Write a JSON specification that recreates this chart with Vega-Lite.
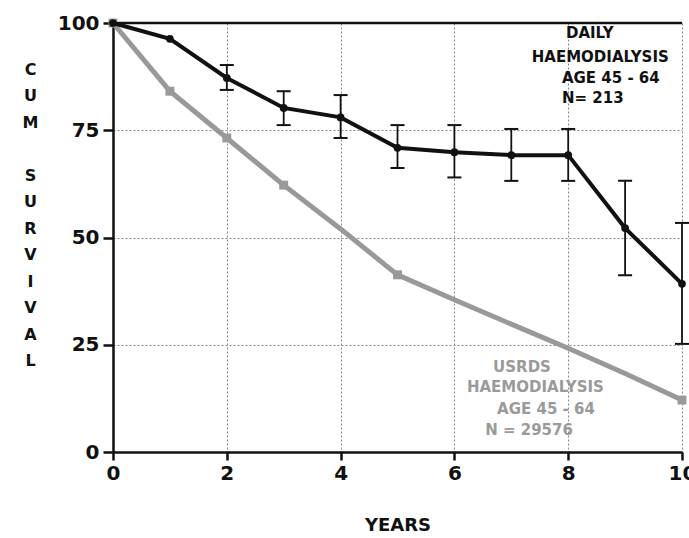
{
  "$schema": "https://vega.github.io/schema/vega-lite/v6.json",
  "width": 569,
  "height": 429,
  "autosize": "none",
  "padding": {"left": 113, "top": 23, "right": 7, "bottom": 86},
  "background": "white",
  "config": {
    "view": {"stroke": null},
    "font": "DejaVu Sans"
  },
  "datasets": {
    "daily": [
      {"year": 0, "survival": 100},
      {"year": 1, "survival": 96.3},
      {"year": 2, "survival": 87.2, "lo": 84.4, "hi": 90.2},
      {"year": 3, "survival": 80.2, "lo": 76.2, "hi": 84.1},
      {"year": 4, "survival": 78, "lo": 73.2, "hi": 83.2},
      {"year": 5, "survival": 70.9, "lo": 66.2, "hi": 76.2},
      {"year": 6, "survival": 69.9, "lo": 64, "hi": 76.2},
      {"year": 7, "survival": 69.2, "lo": 63.2, "hi": 75.3},
      {"year": 8, "survival": 69.2, "lo": 63.2, "hi": 75.3},
      {"year": 9, "survival": 52.2, "lo": 41.2, "hi": 63.2},
      {"year": 10, "survival": 39.2, "lo": 25.2, "hi": 53.4}
    ],
    "usrds": [
      {"year": 0, "survival": 100},
      {"year": 1, "survival": 84.1},
      {"year": 2, "survival": 73.2},
      {"year": 3, "survival": 62.2},
      {"year": 4, "survival": 52},
      {"year": 5, "survival": 41.3},
      {"year": 6, "survival": 35.5},
      {"year": 7, "survival": 29.8},
      {"year": 8, "survival": 24.2},
      {"year": 9, "survival": 18.3},
      {"year": 10, "survival": 12.1}
    ],
    "labels": [
      {"x": 7.96, "y": 97.7, "text": "DAILY", "series": "Daily"},
      {"x": 7.36, "y": 92.1, "text": "HAEMODIALYSIS", "series": "Daily"},
      {"x": 7.89, "y": 87.2, "text": "AGE 45 - 64", "series": "Daily"},
      {"x": 7.89, "y": 82.5, "text": "N= 213", "series": "Daily"},
      {"x": 6.68, "y": 19.8, "text": "USRDS", "series": "USRDS"},
      {"x": 6.22, "y": 15.2, "text": "HAEMODIALYSIS", "series": "USRDS"},
      {"x": 6.75, "y": 10.0, "text": "AGE 45 - 64", "series": "USRDS"},
      {"x": 6.54, "y": 5.1, "text": "N = 29576", "series": "USRDS"}
    ]
  },
  "layer": [
    {
      "data": {"values": [{}]},
      "mark": {"type": "rule", "color": "#111", "strokeWidth": 2.5},
      "encoding": {
        "y": {
          "datum": 100,
          "type": "quantitative",
          "scale": {"domain": [0, 100], "nice": false},
          "axis": {
            "values": [0, 25, 50, 75, 100],
            "grid": true,
            "gridDash": [2, 2],
            "gridColor": "#888",
            "gridWidth": 1,
            "domainColor": "#111",
            "domainWidth": 2.5,
            "tickColor": "#111",
            "tickWidth": 2.5,
            "tickSize": 10,
            "labelFont": "DejaVu Sans",
            "labelFontWeight": "bold",
            "labelFontSize": 20,
            "labelColor": "#111",
            "labelPadding": 4,
            "title": ["C", "U", "M", "\u200b", "S", "U", "R", "V", "I", "V", "A", "L"],
            "titleFont": "DejaVu Sans",
            "titleFontWeight": "bold",
            "titleFontSize": 16,
            "titleColor": "#111",
            "titleAngle": 0,
            "titleAlign": "center",
            "titleBaseline": "top",
            "titleLineHeight": 26.5,
            "titleX": -83,
            "titleY": 38
          }
        }
      }
    },
    {
      "data": {"name": "usrds"},
      "mark": {"type": "line", "color": "#999", "strokeWidth": 5},
      "encoding": {
        "x": {
          "field": "year",
          "type": "quantitative",
          "scale": {"domain": [0, 10], "nice": false},
          "axis": {
            "values": [0, 2, 4, 6, 8, 10],
            "format": "d",
            "grid": true,
            "gridDash": [2, 2],
            "gridColor": "#888",
            "gridWidth": 1,
            "domainColor": "#111",
            "domainWidth": 2.5,
            "tickColor": "#111",
            "tickWidth": 2.5,
            "tickSize": 8,
            "labelFont": "DejaVu Sans",
            "labelFontWeight": "bold",
            "labelFontSize": 20,
            "labelColor": "#111",
            "labelPadding": 3,
            "labelFlush": false,
            "title": "YEARS",
            "titleFont": "DejaVu Sans",
            "titleFontWeight": "bold",
            "titleFontSize": 18,
            "titleColor": "#111",
            "titleBaseline": "middle",
            "titleY": 73
          }
        },
        "y": {"field": "survival", "type": "quantitative"}
      }
    },
    {
      "data": {"name": "usrds"},
      "transform": [{"filter": {"field": "year", "oneOf": [0, 1, 2, 3, 5, 10]}}],
      "mark": {"type": "point", "shape": "square", "filled": true, "color": "#999", "size": 80, "opacity": 1},
      "encoding": {
        "x": {"field": "year", "type": "quantitative"},
        "y": {"field": "survival", "type": "quantitative"}
      }
    },
    {
      "data": {"name": "daily"},
      "transform": [{"filter": "isValid(datum.lo)"}],
      "mark": {"type": "rule", "color": "#111", "strokeWidth": 1.8},
      "encoding": {
        "x": {"field": "year", "type": "quantitative"},
        "y": {"field": "lo", "type": "quantitative"},
        "y2": {"field": "hi"}
      }
    },
    {
      "data": {"name": "daily"},
      "transform": [{"filter": "isValid(datum.lo)"}],
      "mark": {"type": "tick", "orient": "horizontal", "color": "#111", "size": 14, "thickness": 2, "opacity": 1},
      "encoding": {
        "x": {"field": "year", "type": "quantitative"},
        "y": {"field": "lo", "type": "quantitative"}
      }
    },
    {
      "data": {"name": "daily"},
      "transform": [{"filter": "isValid(datum.hi)"}],
      "mark": {"type": "tick", "orient": "horizontal", "color": "#111", "size": 14, "thickness": 2, "opacity": 1},
      "encoding": {
        "x": {"field": "year", "type": "quantitative"},
        "y": {"field": "hi", "type": "quantitative"}
      }
    },
    {
      "data": {"name": "daily"},
      "mark": {"type": "line", "color": "#111", "strokeWidth": 4},
      "encoding": {
        "x": {"field": "year", "type": "quantitative"},
        "y": {"field": "survival", "type": "quantitative"}
      }
    },
    {
      "data": {"name": "daily"},
      "mark": {"type": "circle", "color": "#111", "size": 60, "opacity": 1},
      "encoding": {
        "x": {"field": "year", "type": "quantitative"},
        "y": {"field": "survival", "type": "quantitative"}
      }
    },
    {
      "data": {"name": "labels"},
      "mark": {"type": "text", "align": "left", "baseline": "middle", "font": "DejaVu Sans", "fontWeight": "bold", "fontSize": 15},
      "encoding": {
        "x": {"field": "x", "type": "quantitative"},
        "y": {"field": "y", "type": "quantitative"},
        "text": {"field": "text"},
        "color": {
          "field": "series",
          "type": "nominal",
          "scale": {"domain": ["Daily", "USRDS"], "range": ["#111111", "#9a9a9a"]},
          "legend": null
        }
      }
    }
  ]
}
